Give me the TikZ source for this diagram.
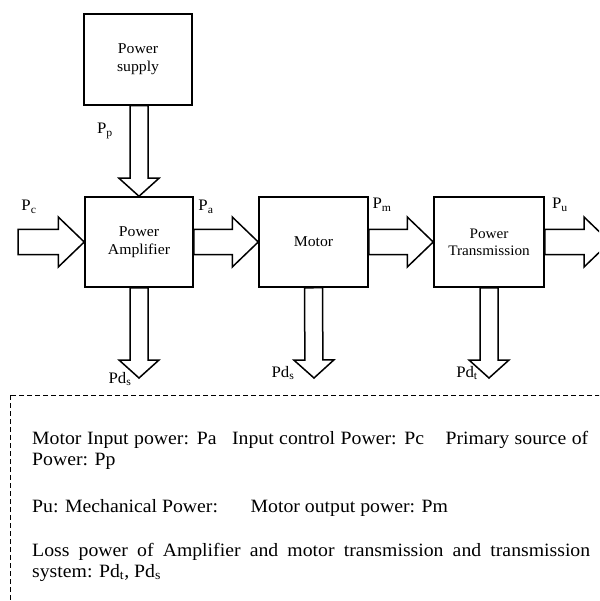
\documentclass[tikz,border=0pt]{standalone}
\usepackage{fontspec}
\setmainfont[FakeStretch=1.05]{Liberation Serif}
\usetikzlibrary{calc}
\tikzset{
  blk/.style={draw, line width=1.5pt, align=center, minimum width=108pt, minimum height=90pt,
    font=\fontsize{15}{18}\selectfont},
  lbl/.style={inner sep=0pt, font=\fontsize{16}{18}\selectfont},
  leg/.style={inner sep=0pt, anchor=base west, font=\fontsize{18.8}{20}\selectfont},
  legbox/.style={draw, line width=1pt, dash pattern=on 5pt off 3pt},
  fat/.style n args={3}{draw, line width=1.5pt, line join=miter, to path={
    ($(\tikztotarget)!#3!(\tikztostart)$) coordinate (fh)
    ($(\tikztostart)!#1!90:(\tikztotarget)$) -- ($(fh)!#1!90:(\tikztotarget)$)
    -- ($(fh)!#2!90:(\tikztotarget)$) -- (\tikztotarget)
    -- ($(fh)!#2!-90:(\tikztotarget)$) -- ($(fh)!#1!-90:(\tikztotarget)$)
    -- ($(\tikztostart)!#1!-90:(\tikztotarget)$) -- cycle}},
}

\begin{document}
\begin{tikzpicture}[x=1pt, y=-1pt]
  \useasboundingbox (0,0) rectangle (599,601);
  \clip (0,0) rectangle (599,601);

  % Define blocks
  \node[blk, minimum height=91pt] (supply) at (138,59.5) {Power\\supply};
  \node[blk] (amp) at (139,242) {Power\\Amplifier};
  \node[blk, minimum width=109pt] (motor) at (313.5,242) {Motor};
  \node[blk, minimum width=110pt, font=\fontsize{14.5}{17}\selectfont] (trans) at (489,242) {Power\\Transmission};

  % Free ends
  \coordinate (pcin) at (18,242);
  \coordinate (puout) at (610,242);
  \coordinate (ampout) at (139,378);
  \coordinate (motout) at (314,378);
  \coordinate (trout) at (489,378);

  % Draw power flows
  \path[fat={9pt}{20pt}{18pt}] (amp.north |- supply.south) to (amp.north);
  \path[fat={12.5pt}{25pt}{26pt}] (pcin) to (amp.west);
  \path[fat={12.5pt}{25pt}{26pt}] (amp.east) to (motor.west);
  \path[fat={12.5pt}{25pt}{26pt}] (motor.east) to (trans.west);
  \path[fat={12.5pt}{25pt}{26pt}] (trans.east) to (puout);
  \path[fat={9pt}{20pt}{18pt}] (amp.south) to (ampout);
  \path[fat={9pt}{20pt}{18pt}] (motor.south) to (motout);
  \path[fat={9pt}{20pt}{18pt}] (trans.south) to (trout);

  % Labels
  \node[lbl] (lp) at (105,131) {P\textsubscript{p}};
  \node[lbl] (lc) at (29,207) {P\textsubscript{c}};
  \node[lbl] (la) at (206,207) {P\textsubscript{a}};
  \node[lbl] (lm) at (382,205) {P\textsubscript{m}};
  \node[lbl] (lu) at (560,205) {P\textsubscript{u}};
  \node[lbl] (lds1) at (120,379) {Pd\textsubscript{s}};
  \node[lbl] (lds2) at (283,373) {Pd\textsubscript{s}};
  \node[lbl] (ldt) at (467,373) {Pd\textsubscript{t}};

  % Legend
  \draw[legbox] (10,395) rectangle (640,640);
  \node[leg] (leg1) at (32,444) {\makebox[556pt][s]{Motor Input power: Pa\hspace{10pt} Input control Power: Pc\hspace{16pt} Primary source of}};
  \node[leg] (leg2) at (32,465) {Power: Pp};
  \node[leg] (leg3) at (32,512) {Pu: Mechanical Power:\hspace{26pt} Motor output power: Pm};
  \node[leg] (leg4) at (32,556) {\makebox[558pt][s]{Loss power of Amplifier and motor transmission and transmission}};
  \node[leg] (leg5) at (32,577) {system: Pd\textsubscript{t}, Pd\textsubscript{s}};
\end{tikzpicture}
\end{document}
